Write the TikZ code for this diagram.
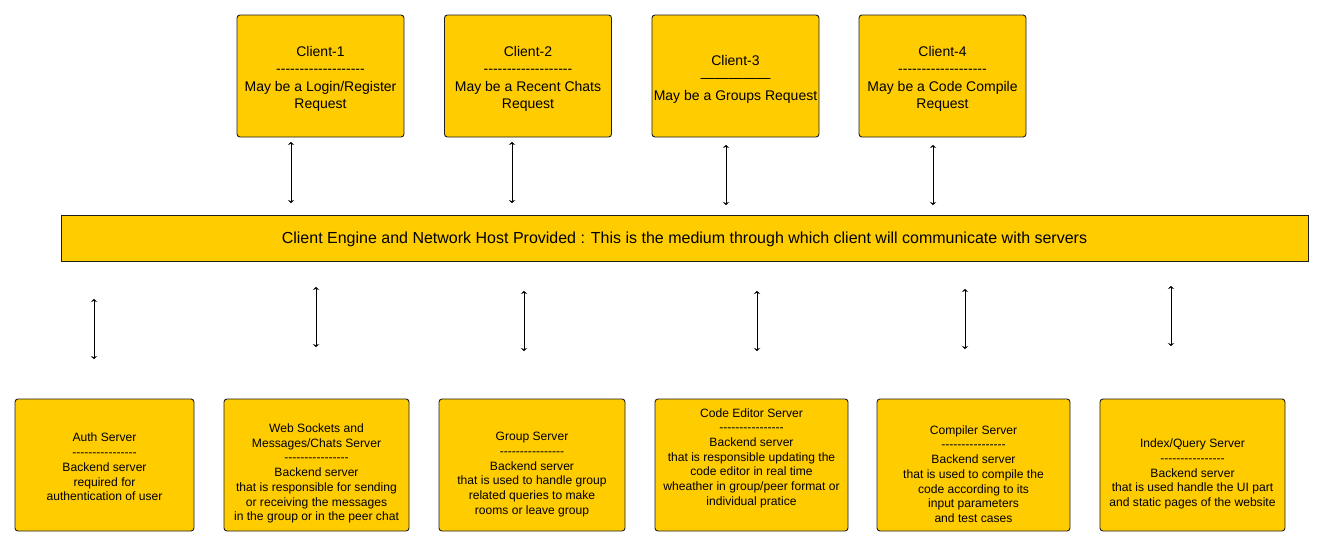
\documentclass[tikz,border=0pt]{standalone}
\usepackage{fontspec}
\setmainfont{Liberation Sans}[Ligatures=TeXOff]
\usetikzlibrary{arrows.meta}
\definecolor{boxfill}{RGB}{255,204,0}
\definecolor{boxline}{RGB}{30,30,30}
\tikzset{
  box/.style={draw=boxline, line width=0.9pt, fill=boxfill, rounded corners=3pt, inner sep=0pt},
  clientbox/.style={box, minimum width=167pt, minimum height=122pt},
  serverbox/.style={box, minimum height=132pt},
  enginebox/.style={draw=boxline, line width=0.9pt, fill=boxfill, inner sep=0pt, minimum width=1247pt, minimum height=46pt},
  ctext/.style={align=center, inner sep=0pt, font=\fontsize{14}{17.5}\selectfont},
  stext/.style={align=center, inner sep=0pt, font=\fontsize{12.1}{14.7}\selectfont},
  etext/.style={inner sep=0pt, font=\fontsize{16}{18}\selectfont},
  biarrow/.style={line width=0.9pt, {Stealth[length=3pt,width=6.5pt,inset=1.2pt]}-{Stealth[length=3pt,width=6.5pt,inset=1.2pt]}}
}
\begin{document}
\begin{tikzpicture}[x=1pt,y=-1pt]
\useasboundingbox[fill=white] (0,0) rectangle (1324,547);

% clients
\node[clientbox] (c1) at (320.5,76) {};
\node[clientbox] (c2) at (528,76) {};
\node[clientbox] (c3) at (735.5,76) {};
\node[clientbox] (c4) at (942.5,76) {};
\node[ctext] (c1t) at (320.5,79) {Client-1\\-------------------\\May be a Login/Register\\Request};
\node[ctext] (c2t) at (528,79) {Client-2\\-------------------\\May be a Recent Chats\\Request};
\node[ctext] (c3t) at (735.5,79) {Client-3\\—————\\May be a Groups Request};
\node[ctext] (c4t) at (942.5,79) {Client-4\\-------------------\\May be a Code Compile\\Request};

% engine
\node[enginebox] (eng) at (684.5,238) {};
\node[etext] (engt) at (684.5,239) {Client Engine and Network Host Provided : This is the medium through which client will communicate with servers};

% servers
\node[serverbox, minimum width=179pt] (s1) at (104.5,465) {};
\node[serverbox, minimum width=185pt] (s2) at (316.5,465) {};
\node[serverbox, minimum width=186pt] (s3) at (532,465) {};
\node[serverbox, minimum width=193pt] (s4) at (751.5,465) {};
\node[serverbox, minimum width=193pt] (s5) at (973.5,465) {};
\node[serverbox, minimum width=185pt] (s6) at (1192.5,465) {};

\node[stext] (s1t) at (104.5,467) {Auth Server\\----------------\\Backend server\\required for\\authentication of user};
\node[stext] (s2t) at (316.5,473.5) {Web Sockets and\\Messages/Chats Server\\----------------\\Backend server\\that is responsible for sending\\or receiving the messages\\in the group or in the peer chat};
\node[stext] (s3t) at (532,474.5) {Group Server\\----------------\\Backend server\\that is used to handle group\\related queries to make\\rooms or leave group};
\node[stext] (s4t) at (751.5,458) {Code Editor Server\\----------------\\Backend server\\that is responsible updating the\\code editor in real time\\wheather in group/peer format or\\individual pratice};
\node[stext] (s5t) at (973.5,474) {Compiler Server\\----------------\\Backend server\\that is used to compile the\\code according to its\\input parameters\\and test cases};
\node[stext] (s6t) at (1192.5,474) {Index/Query Server\\----------------\\Backend server\\that is used handle the UI part\\and static pages of the website};

% top arrows (free-floating)
\coordinate (t1a) at (291,142); \coordinate (t1b) at (291,203);
\coordinate (t2a) at (512,142); \coordinate (t2b) at (512,203);
\coordinate (t3a) at (726,145); \coordinate (t3b) at (726,205);
\coordinate (t4a) at (933,145); \coordinate (t4b) at (933,205);
\draw[biarrow] (t1a) -- (t1b);
\draw[biarrow] (t2a) -- (t2b);
\draw[biarrow] (t3a) -- (t3b);
\draw[biarrow] (t4a) -- (t4b);

% bottom arrows (free-floating)
\coordinate (b1a) at (94,299);  \coordinate (b1b) at (94,359);
\coordinate (b2a) at (316,287); \coordinate (b2b) at (316,347);
\coordinate (b3a) at (524,291); \coordinate (b3b) at (524,351);
\coordinate (b4a) at (757,291); \coordinate (b4b) at (757,351);
\coordinate (b5a) at (965,289); \coordinate (b5b) at (965,349);
\coordinate (b6a) at (1171,286); \coordinate (b6b) at (1171,346);
\draw[biarrow] (b1a) -- (b1b);
\draw[biarrow] (b2a) -- (b2b);
\draw[biarrow] (b3a) -- (b3b);
\draw[biarrow] (b4a) -- (b4b);
\draw[biarrow] (b5a) -- (b5b);
\draw[biarrow] (b6a) -- (b6b);
\end{tikzpicture}
\end{document}
